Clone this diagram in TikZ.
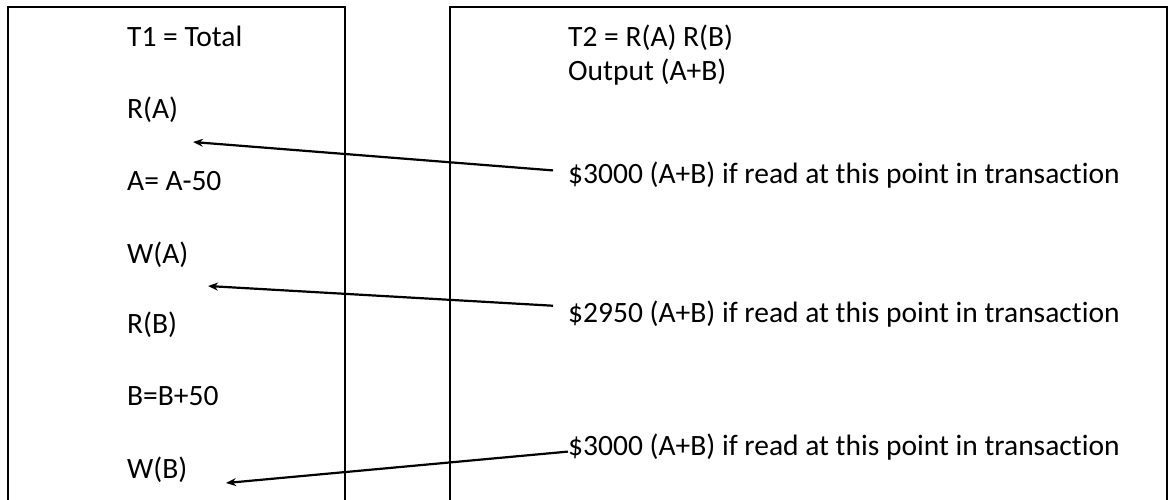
\documentclass[tikz,border=0pt]{standalone}
\usepackage{fontspec}
\setmainfont{Carlito}[Ligatures=NoCommon]
\usetikzlibrary{arrows.meta}
\begin{document}
\begin{tikzpicture}[x=1pt,y=-1pt]
\useasboundingbox (0,0) rectangle (1171,499);

\tikzstyle{op} = [anchor=base west, inner sep=0pt, font=\fontsize{29.5}{35}\selectfont]
\tikzstyle{note} = [anchor=base west, inner sep=0pt, font=\fontsize{29.5}{35}\selectfont]
\tikzstyle{frame} = [line width=2.2pt]
\tikzstyle{pointer} = [line width=2.2pt, -{Stealth[length=10pt, width=8pt]}]

% Transaction frames
\draw[frame] (8,505) -- (8,7) -- (345,7) -- (345,505);
\draw[frame] (450,505) -- (450,7) -- (1167,7) -- (1167,505);

\node at (127,46.5) [op] (t1) {T1 = Total};
\node at (127,118) [op] (ra) {R(A)};
\node at (127,190) [op] (ua) {A= A-50};
\node at (127,263) [op] (wa) {W(A)};
\node at (127,333) [op] (rb) {R(B)};
\node at (127,405) [op] (ub) {B=B+50};
\node at (127,478) [op] (wb) {W(B)};

\node at (568,46.5) [note] (t2) {T2 = R(A) R(B)};
\node at (568,80) [note] (out) {Output (A+B)};
\node at (568,183) [note] (sum1) {\$3000 (A+B) if read at this point in transaction};
\node at (568,322) [note] (sum2) {\$2950 (A+B) if read at this point in transaction};
\node at (568,455) [note] (sum3) {\$3000 (A+B) if read at this point in transaction};

\coordinate (tipA) at (193,142);
\coordinate (tipB) at (208,286);
\coordinate (tipC) at (226,483);

\draw[pointer, shorten <=15pt] ([yshift=3pt]sum1.west) -- (tipA);
\draw[pointer, shorten <=15pt] ([yshift=7pt]sum2.west) -- (tipB);
\draw[pointer] ([yshift=-5pt]sum3.west) -- (tipC);
\end{tikzpicture}
\end{document}
